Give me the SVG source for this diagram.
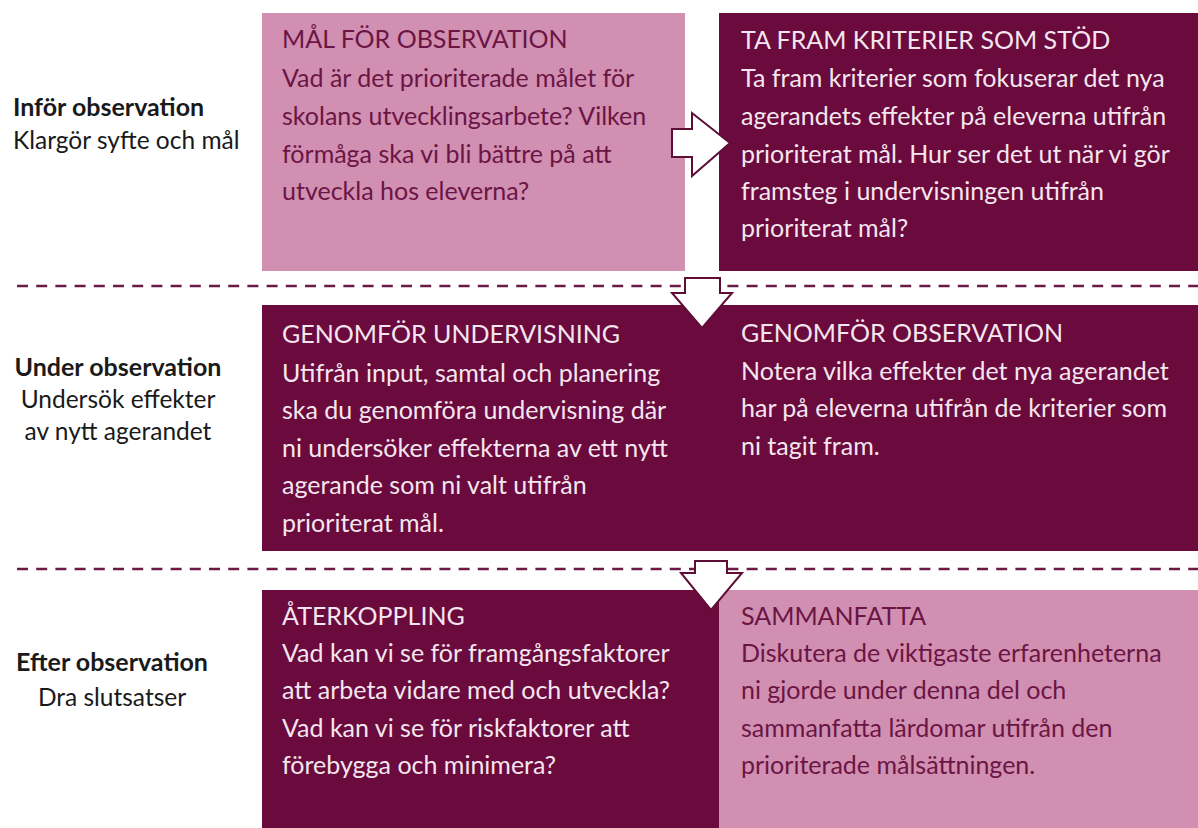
<svg xmlns="http://www.w3.org/2000/svg" width="1198" height="828" viewBox="0 0 1198 828">
<style>
.dark{fill:#6a0a3d}
.pink{fill:#d18fb1}
.t{font-family:Lato,"Liberation Sans",sans-serif;font-size:25px}
.tl{fill:#f4e6ee}
.tp{fill:#6b1545}
.lab{font-family:Lato,"Liberation Sans",sans-serif;font-size:24.5px;fill:#1a1a1a}
.b{font-weight:bold;font-size:25px}
.dash{stroke:#6a1a45;stroke-width:2.5;stroke-dasharray:11 8.2;fill:none}
.arrow{fill:#ffffff;stroke:#5e0d37;stroke-width:2;stroke-linejoin:miter}
</style>
<rect width="1198" height="828" fill="#ffffff"/>
<g id="labels">
<text class="lab b" x="13" y="116">Inför observation</text>
<text class="lab" x="13" y="149">Klargör syfte och mål</text>
<text class="lab b" x="118" y="376" text-anchor="middle">Under observation</text>
<text class="lab" x="118" y="408" text-anchor="middle">Undersök effekter</text>
<text class="lab" x="118" y="440" text-anchor="middle">av nytt agerandet</text>
<text class="lab b" x="112" y="671" text-anchor="middle">Efter observation</text>
<text class="lab" x="112" y="706" text-anchor="middle">Dra slutsatser</text>
</g>
<g id="separators">
<line class="dash" x1="17" y1="286" x2="1198" y2="286"/>
<line class="dash" x1="17" y1="569" x2="1198" y2="569"/>
</g>
<g id="mal">
<rect class="pink" x="262" y="13" width="423" height="258"/>
<text class="t tp" x="282"><tspan x="282" y="48">MÅL FÖR OBSERVATION</tspan><tspan x="282" y="87">Vad är det prioriterade målet för</tspan><tspan x="282" y="125">skolans utvecklingsarbete? Vilken</tspan><tspan x="282" y="163">förmåga ska vi bli bättre på att</tspan><tspan x="282" y="200">utveckla hos eleverna?</tspan></text>
</g>
<g id="kriterier">
<rect class="dark" x="719" y="13" width="479" height="258"/>
<text class="t tl"><tspan x="741" y="49">TA FRAM KRITERIER SOM STÖD</tspan><tspan x="741" y="87">Ta fram kriterier som fokuserar det nya</tspan><tspan x="741" y="125">agerandets effekter på eleverna utifrån</tspan><tspan x="741" y="163">prioriterat mål. Hur ser det ut när vi gör</tspan><tspan x="741" y="200">framsteg i undervisningen utifrån</tspan><tspan x="741" y="237">prioriterat mål?</tspan></text>
</g>
<g id="undervisning">
<rect class="dark" x="262" y="305" width="460" height="246"/>
<text class="t tl"><tspan x="282" y="343">GENOMFÖR UNDERVISNING</tspan><tspan x="282" y="382">Utifrån input, samtal och planering</tspan><tspan x="282" y="419">ska du genomföra undervisning där</tspan><tspan x="282" y="457">ni undersöker effekterna av ett nytt</tspan><tspan x="282" y="494">agerande som ni valt utifrån</tspan><tspan x="282" y="532">prioriterat mål.</tspan></text>
</g>
<g id="observation">
<rect class="dark" x="719" y="305" width="479" height="246"/>
<text class="t tl"><tspan x="741" y="342">GENOMFÖR OBSERVATION</tspan><tspan x="741" y="380">Notera vilka effekter det nya agerandet</tspan><tspan x="741" y="417">har på eleverna utifrån de kriterier som</tspan><tspan x="741" y="455">ni tagit fram.</tspan></text>
</g>
<g id="aterkoppling">
<rect class="dark" x="262" y="590" width="460" height="238"/>
<text class="t tl"><tspan x="282" y="625">ÅTERKOPPLING</tspan><tspan x="282" y="662">Vad kan vi se för framgångsfaktorer</tspan><tspan x="282" y="699">att arbeta vidare med och utveckla?</tspan><tspan x="282" y="737">Vad kan vi se för riskfaktorer att</tspan><tspan x="282" y="774">förebygga och minimera?</tspan></text>
</g>
<g id="sammanfatta">
<rect class="pink" x="719" y="590" width="479" height="238"/>
<text class="t tp"><tspan x="741" y="625">SAMMANFATTA</tspan><tspan x="741" y="662">Diskutera de viktigaste erfarenheterna</tspan><tspan x="741" y="699">ni gjorde under denna del och</tspan><tspan x="741" y="737">sammanfatta lärdomar utifrån den</tspan><tspan x="741" y="774">prioriterade målsättningen.</tspan></text>
</g>
<g id="connectors">
<polygon class="arrow" points="672,129 692,129 692,113 730,143 692,176 692,157 672,157"/>
<polygon class="arrow" points="685,278 720,278 720,293 732,293 702,328 672,293 685,293"/>
<polygon class="arrow" points="695,561 727,561 727,573 742,573 711,610 681,573 695,573"/>
</g>
</svg>
